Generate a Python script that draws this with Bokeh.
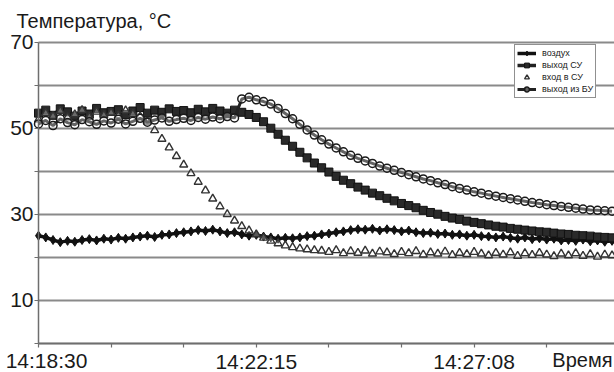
from bokeh.plotting import figure
from bokeh.models import FixedTicker, Label, Legend, LegendItem, Range1d, ColumnDataSource
from bokeh.embed import file_html
from bokeh.resources import INLINE

# ---- data (x = position along the category time axis, in tick units) ----
x_pos = [i / 10 for i in range(80)]

air = [25.0, 24.6, 24.0, 23.5, 23.8, 23.6, 24.0, 24.2, 23.9, 24.3,
       24.1, 24.5, 24.3, 24.6, 24.8, 25.0, 24.7, 25.2, 25.3, 25.6,
       25.8, 26.0, 26.3, 26.1, 26.4, 26.0, 25.6, 25.8, 25.3, 25.0,
       25.2, 24.8, 24.6, 24.3, 24.5, 24.4, 24.6, 24.9, 25.0, 25.3,
       25.5, 25.8, 26.0, 26.3, 26.5, 26.4, 26.6, 26.2, 26.5, 26.3,
       26.0, 26.2, 25.8, 25.6, 25.7, 25.4, 25.5, 25.2, 25.3, 25.0,
       25.2, 24.9, 24.8, 24.6, 24.8, 24.5, 24.3, 24.6, 24.2, 24.4,
       24.1, 24.3, 23.9, 24.0, 23.8, 24.1, 23.7, 23.9, 23.6, 23.8]

out_su = [53.5, 54.2, 53.0, 54.5, 53.8, 52.8, 54.0, 53.3, 54.6, 53.6,
          53.9, 54.3, 53.2, 54.0, 54.8, 53.5, 54.2, 53.7, 54.5, 53.9,
          54.1, 53.6, 54.4, 53.8, 54.6, 54.0, 53.5, 54.2, 53.7, 53.2,
          52.5, 51.5, 50.0, 48.6, 47.2, 45.8, 44.4, 43.1, 41.9, 40.8,
          39.8, 38.8, 37.9, 37.1, 36.3, 35.6, 34.9, 34.3, 33.7, 33.1,
          32.5, 32.0, 31.5, 30.9, 30.4, 30.0, 29.5, 29.1, 28.8, 28.4,
          28.1, 27.8, 27.5, 27.2, 27.0, 26.7, 26.5, 26.3, 26.1, 25.9,
          25.8, 25.6, 25.4, 25.3, 25.1, 25.0, 24.9, 24.7, 24.6, 24.5]

in_su = [52.0, 53.5, 52.8, 54.0, 52.5, 53.2, 54.2, 52.6, 53.8, 53.0,
         53.6, 52.9, 54.1, 53.3, 52.7, 51.5, 49.5, 47.5, 45.5, 43.5,
         41.5, 39.5, 37.5, 35.5, 33.6, 31.8, 30.0, 28.5, 27.2, 26.2,
         25.3, 24.5, 23.8, 23.2, 22.7, 22.3, 22.0, 21.8, 21.6, 21.5,
         21.2, 21.6, 20.9, 21.4, 21.0, 21.5, 20.8, 21.3, 21.1, 20.7,
         21.2, 20.9, 21.4, 20.6, 21.1, 20.8, 21.3, 20.5, 21.0, 20.7,
         21.2, 20.8, 20.4, 21.0, 20.6, 21.1, 20.3, 20.9, 20.5, 21.0,
         20.6, 20.2, 20.8, 20.4, 20.9, 20.3, 20.7, 20.1, 20.6, 20.4]

out_bu = [51.0, 51.8, 50.6, 52.2, 51.3, 50.8, 52.0, 51.5, 50.9, 51.7,
          51.2, 52.1, 51.0, 51.6, 52.3, 51.4, 51.9, 52.4, 51.6, 52.0,
          52.3, 51.8, 52.5, 52.1, 52.6, 52.2, 52.7, 52.4, 56.8, 57.2,
          56.6, 56.2, 55.6, 54.6, 53.4, 52.2, 50.9, 49.6, 48.4, 47.3,
          46.3, 45.4, 44.5, 43.7, 43.0, 42.4, 41.8, 41.2, 40.7, 40.2,
          39.7, 39.2, 38.7, 38.2, 37.8, 37.3, 36.9, 36.4, 36.0, 35.6,
          35.2, 34.9, 34.5, 34.2, 33.9, 33.6, 33.3, 33.0, 32.7, 32.5,
          32.2, 32.0, 31.8, 31.6, 31.4, 31.2, 31.0, 30.9, 30.8, 30.7]

series_names = ["воздух", "выход СУ", "вход в СУ", "выход из БУ"]

x_ticks = [0, 1, 2, 3, 4, 5, 6, 7]
x_tick_labels = ["14:18:30", "", "", "14:22:15", "", "", "14:27:08", ""]
y_ticks = [0, 10, 20, 30, 40, 50, 60, 70]
y_tick_labels = ["", "10", "", "30", "", "50", "", "70"]

y_title = "Температура, °C"
x_title = "Время"

FONT = "Liberation Sans"
INK = "#1a1a1a"
AXC = "#6e6e6e"

# layout constants: pixel scale of the original chart
PX_PER_TICK = 72.6
PX_PER_DEG = 4.3
X0_PX, Y0_PX = 38.0, 342.7
W, H = 614, 372

x_lo = -X0_PX / PX_PER_TICK
x_hi = (W - X0_PX) / PX_PER_TICK
y_lo = -(H - Y0_PX) / PX_PER_DEG
y_hi = Y0_PX / PX_PER_DEG

src = ColumnDataSource(dict(x=x_pos, air=air, out_su=out_su, in_su=in_su, out_bu=out_bu))

p = figure(width=W, height=H, output_backend="svg", toolbar_location=None,
           x_range=Range1d(x_lo, x_hi), y_range=Range1d(y_lo, y_hi),
           min_border=0)
p.outline_line_color = None
p.background_fill_color = "white"

# axes placed at the data origin
p.xaxis.fixed_location = 0
p.yaxis.fixed_location = 0
p.xaxis.bounds = (0, x_hi)
p.yaxis.bounds = (0, 70)
p.xaxis.ticker = FixedTicker(ticks=x_ticks)
p.xaxis.major_label_overrides = {t: ("" if i == 0 else lab) for i, (t, lab) in enumerate(zip(x_ticks, x_tick_labels))}
p.yaxis.ticker = FixedTicker(ticks=y_ticks)
p.yaxis.major_label_overrides = {t: lab for t, lab in zip(y_ticks, y_tick_labels)}
for ax in (p.xaxis, p.yaxis):
    ax.axis_line_color = AXC
    ax.axis_line_width = 1.5
    ax.major_tick_line_color = AXC
    ax.major_tick_line_width = 1.2
    ax.minor_tick_line_color = None
    ax.major_tick_in = 0
    ax.major_label_text_font = FONT
    ax.major_label_text_font_size = "21px"
    ax.major_label_text_color = INK
p.xaxis.major_tick_out = 4
p.xaxis.major_label_standoff = 3
p.yaxis.major_tick_out = 4
p.yaxis.major_label_standoff = 1

p.xgrid.grid_line_color = None
p.ygrid.ticker = FixedTicker(ticks=y_ticks)
p.ygrid.bounds = (0, 70)
p.ygrid.cross_bounds = (0, x_hi)
p.ygrid.grid_line_color = "#8a8a8a"
p.ygrid.grid_line_width = 2

# series
r_air_l = p.line("x", "air", source=src, line_color="#111111", line_width=3.5)
r_air_m = p.scatter("x", "air", source=src, marker="diamond", size=9, fill_color="#111111", line_color="#111111")

r_su_l = p.line("x", "out_su", source=src, line_color="#222222", line_width=3.5)
r_su_m = p.scatter("x", "out_su", source=src, marker="square", size=8, fill_color="#2a2a2a", line_color="#111111")

r_in_m = p.scatter("x", "in_su", source=src, marker="triangle", size=8, fill_color="white", fill_alpha=0.3,
                   line_color="#333333", line_width=1.4)

r_bu_l = p.line("x", "out_bu", source=src, line_color="#222222", line_width=3)
r_bu_m = p.scatter("x", "out_bu", source=src, marker="circle", size=8, fill_color="white", fill_alpha=0.3,
                   line_color="#1a1a1a", line_width=1.5)

legend = Legend(items=[
    LegendItem(label=series_names[0], renderers=[r_air_l, r_air_m]),
    LegendItem(label=series_names[1], renderers=[r_su_l, r_su_m]),
    LegendItem(label=series_names[2], renderers=[r_in_m]),
    LegendItem(label=series_names[3], renderers=[r_bu_l, r_bu_m]),
], location=(514, H - 98))
legend.label_text_font = FONT
legend.label_text_font_size = "9px"
legend.label_text_color = INK
legend.label_height = 12
legend.glyph_height = 12
legend.glyph_width = 19
legend.label_standoff = 6
legend.spacing = 0
legend.padding = 2
legend.margin = 0
legend.border_line_color = "#222222"
legend.border_line_width = 1
legend.background_fill_color = "white"
legend.background_fill_alpha = 1
p.add_layout(legend)

# texts
p.add_layout(Label(x=0, y=70, x_offset=-22, y_offset=21, text=y_title, text_font=FONT,
                   text_font_size="20px", text_color=INK, text_baseline="alphabetic", text_align="left"))
p.add_layout(Label(x=x_ticks[0], y=0, x_offset=8, y_offset=-17, text=x_tick_labels[0], text_font=FONT,
                   text_font_size="21px", text_color=INK, text_baseline="alphabetic", text_align="center"))
p.add_layout(Label(x=x_hi, y=0, x_offset=-2, y_offset=-17, text=x_title, text_font=FONT,
                   text_font_size="20px", text_color=INK, text_baseline="alphabetic", text_align="right"))

open("out.html", "w").write(file_html(p, INLINE))
